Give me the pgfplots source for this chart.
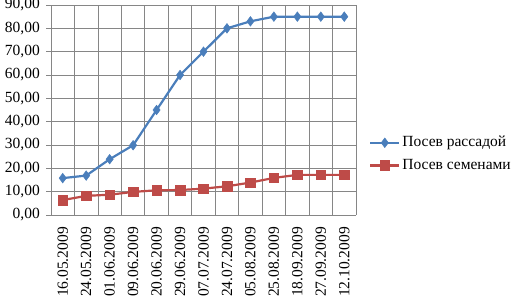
\documentclass[border=0pt]{standalone}
\usepackage{fontspec}
\setmainfont{Liberation Serif}
\usepackage{pgfplots}
\pgfplotsset{compat=1.18}
\definecolor{sblue}{HTML}{4A7EBB}
\definecolor{sred}{HTML}{BE4B48}
\definecolor{sgrid}{HTML}{868686}
\begin{document}
\fontsize{15.5bp}{18bp}\selectfont
\begin{tikzpicture}[x=1bp,y=1bp]
\path[use as bounding box] (0,0) rectangle (513,301);
\begin{axis}[
  at={(51bp,86bp)}, anchor=south west,
  scale only axis, width=305bp, height=210bp,
  xmin=-0.5, xmax=12.5, ymin=0, ymax=90,
  ytick={0,10,...,90},
  xtick={0,...,12},
  xticklabels={16.05.2009,24.05.2009,01.06.2009,09.06.2009,20.06.2009,29.06.2009,07.07.2009,24.07.2009,05.08.2009,25.08.2009,18.09.2009,27.09.2009,12.10.2009},
  x tick label style={rotate=90, anchor=east, inner sep=0pt},
  xticklabel shift=7bp,
  x tick style={draw=none},
  minor xtick={-0.5,0.5,...,12.5},
  minor x tick style={sgrid, line width=0.8pt},
  minor tick length=5bp,
  xminorgrids=true,
  ymajorgrids=true,
  grid style={sgrid, line width=0.8pt},
  minor grid style={sgrid, line width=0.8pt},
  y tick style={sgrid, line width=0.8pt},
  major tick length=5bp,
  tick align=outside,
  axis x line*=bottom, axis y line*=left,
  axis line style={sgrid, line width=0.8pt, -},
  yticklabel={\pgfmathprintnumber[fixed, fixed zerofill, precision=2, use comma, assume math mode=true]{\tick}},
  y tick label style={inner sep=0pt, xshift=-6bp},
  xtick pos=bottom, ytick pos=left,
  legend style={draw=none, fill=none, at={(1,0.3)}, anchor=west, xshift=10bp, yshift=-2bp, row sep=6bp, font=\fontsize{15.5bp}{18bp}\selectfont},
  legend cell align=left,
  legend image code/.code={\draw[#1, mark repeat=2, mark phase=2] plot coordinates {(0bp,0bp) (14.5bp,0bp) (29bp,0bp)};},
  clip=false,
]
\addplot[sblue, line width=2.2pt, mark=diamond*, mark size=4.8bp, mark options={solid, fill=sblue, draw=sblue, line width=0.5pt}]
 coordinates {(0,15.8) (1,16.9) (2,23.9) (3,29.9) (4,45) (5,60) (6,70) (7,80) (8,83) (9,85) (10,85) (11,85) (12,85)};
\addlegendentry{Посев рассадой}
\addplot[sred, line width=2.2pt, mark=square*, mark size=4.8bp, mark options={solid, fill=sred, draw=sred, line width=0.5pt}]
 coordinates {(0,6.4) (1,8.2) (2,8.7) (3,9.9) (4,10.6) (5,10.7) (6,11.3) (7,12.3) (8,13.9) (9,15.9) (10,17.2) (11,17.2) (12,17.2)};
\addlegendentry{Посев семенами}
\end{axis}
\end{tikzpicture}
\end{document}
